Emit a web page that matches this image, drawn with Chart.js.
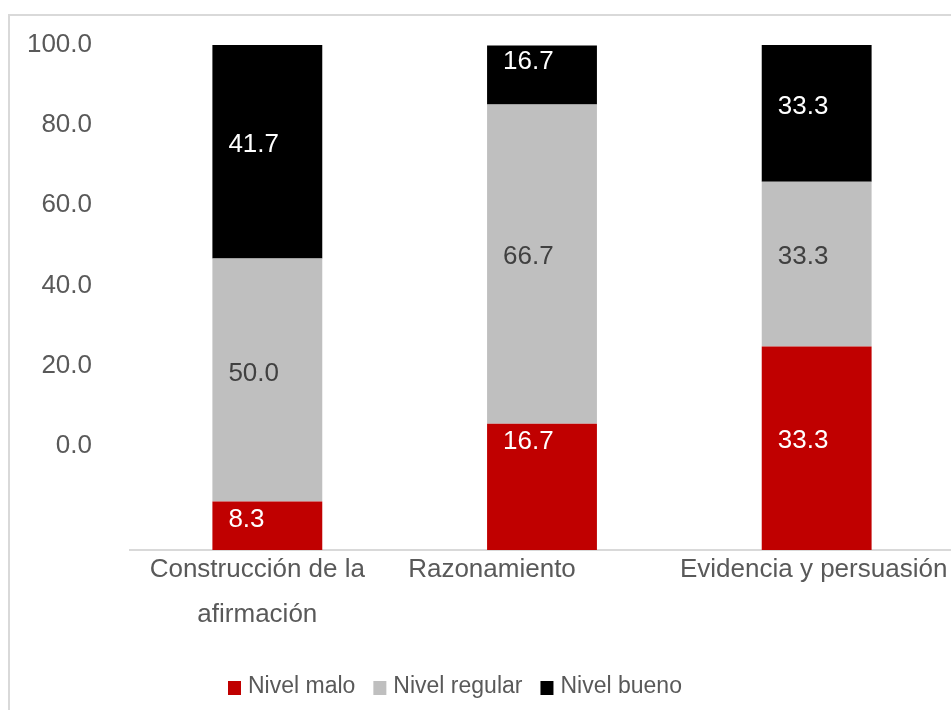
<!DOCTYPE html>
<html>
<head>
<meta charset="utf-8">
<script src="https://cdn.jsdelivr.net/npm/chart.js@4.4.1/dist/chart.umd.min.js"></script>
<style>
  html, body { margin: 0; padding: 0; background: #fff; overflow: hidden; }
  #frame { position: absolute; left: 8px; top: 14px; width: 1000px; height: 800px; border: 2px solid #d9d9d9; }
  #wrap { position: absolute; left: 0; top: 0; width: 960px; height: 710px; }
</style>
</head>
<body>
<div id="frame"></div>
<div id="wrap"><canvas id="chart"></canvas></div>
<script>
// categories (one entry per line of the axis label)
const categories = [['Construcción de la', 'afirmación'], ['Razonamiento'], ['Evidencia y persuasión']];
const seriesNames = ['Nivel malo', 'Nivel regular', 'Nivel bueno'];

// segment heights as they are drawn in the picture
const malo = [9.6, 25.0, 40.3];
const regular = [48.1, 63.2, 32.6];
const bueno = [42.3, 11.7, 27.1];

// numbers printed on the segments
const maloLabels = ['8.3', '16.7', '33.3'];
const regularLabels = ['50.0', '66.7', '33.3'];
const buenoLabels = ['41.7', '16.7', '33.3'];

// y tick labels and the values they sit at
const yTickValues = [20.6, 36.5, 52.4, 68.3, 84.1, 100];
const yTickLabels = ['0.0', '20.0', '40.0', '60.0', '80.0', '100.0'];

const FONT = '"Liberation Sans", Arial, sans-serif';
const TEXT = '#595959';

// small pixel nudges so the labels land where the original put them
const maloShift = [-6, -45, -7];
const regularShift = [-6, -7, -7];
const buenoShift = [-7, -13, -7];
const xLabelShift = [-10, -50, -3];

const segmentLabels = {
  id: 'segmentLabels',
  afterDatasetsDraw(chart) {
    const ctx = chart.ctx;
    ctx.save();
    ctx.font = '26px ' + FONT;
    ctx.textAlign = 'left';
    ctx.textBaseline = 'middle';
    chart.data.datasets.forEach((ds, di) => {
      chart.getDatasetMeta(di).data.forEach((bar, i) => {
        const left = bar.x - bar.width / 2;
        const mid = (bar.y + bar.base) / 2;
        ctx.fillStyle = ds.labelColor;
        ctx.fillText(ds.valueLabels[i], left + 16, mid + ds.labelShift[i]);
      });
    });
    ctx.restore();
  }
};

const categoryLabels = {
  id: 'categoryLabels',
  afterDraw(chart) {
    const ctx = chart.ctx;
    const xs = chart.scales.x;
    ctx.save();
    ctx.font = '26px ' + FONT;
    ctx.fillStyle = TEXT;
    ctx.textAlign = 'center';
    ctx.textBaseline = 'middle';
    categories.forEach((lines, i) => {
      const cx = xs.getPixelForTick(i) + xLabelShift[i];
      lines.forEach((t, j) => ctx.fillText(t, cx, chart.chartArea.bottom + 20 + j * 45));
    });
    ctx.restore();
  }
};

// legend drawn by hand to get the tight box/text spacing of the original
const bottomLegend = {
  id: 'bottomLegend',
  afterDraw(chart) {
    const ctx = chart.ctx;
    ctx.save();
    ctx.font = '23px ' + FONT;
    ctx.textBaseline = 'middle';
    ctx.textAlign = 'left';
    let x = 228;
    const y = 687;
    chart.data.datasets.forEach(ds => {
      ctx.fillStyle = ds.backgroundColor;
      ctx.fillRect(x, y - 6, 13, 14);
      ctx.fillStyle = TEXT;
      ctx.fillText(ds.label, x + 20, y);
      x += 20 + ctx.measureText(ds.label).width + 18;
    });
    ctx.restore();
  }
};

new Chart(document.getElementById('chart'), {
  type: 'bar',
  data: {
    labels: categories,
    datasets: [
      { label: seriesNames[0], data: malo, backgroundColor: '#c00000', valueLabels: maloLabels, labelColor: '#ffffff', labelShift: maloShift },
      { label: seriesNames[1], data: regular, backgroundColor: '#bfbfbf', valueLabels: regularLabels, labelColor: '#404040', labelShift: regularShift },
      { label: seriesNames[2], data: bueno, backgroundColor: '#000000', valueLabels: buenoLabels, labelColor: '#ffffff', labelShift: buenoShift }
    ]
  },
  options: {
    responsive: true,
    maintainAspectRatio: false,
    animation: false,
    datasets: { bar: { barPercentage: 0.4, categoryPercentage: 1.0 } },
    layout: { padding: { top: 45, right: 6, bottom: 2, left: 0 } },
    plugins: {
      tooltip: { enabled: false },
      legend: { display: false }
    },
    scales: {
      x: {
        stacked: true,
        grid: { display: false, drawTicks: false },
        border: { display: true, color: '#d9d9d9', width: 2 },
        ticks: { display: false },
        afterFit(scale) { scale.height = 158; }
      },
      y: {
        stacked: true,
        min: 0,
        max: 100,
        grid: { display: false, drawTicks: false },
        border: { display: false },
        afterBuildTicks(scale) { scale.ticks = yTickValues.map(v => ({ value: v })); },
        afterFit(scale) {
          scale.width = 130;
          // tick padding would otherwise push the plot area down
          scale.paddingTop = 0;
          scale.paddingBottom = 0;
        },
        ticks: {
          color: TEXT,
          padding: 38,
          font: { family: FONT, size: 26 },
          callback: (value, index) => yTickLabels[index]
        }
      }
    }
  },
  plugins: [segmentLabels, categoryLabels, bottomLegend]
});
</script>
</body>
</html>
